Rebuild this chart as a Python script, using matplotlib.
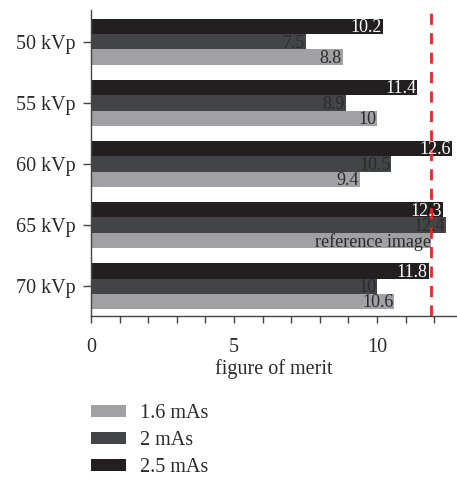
import numpy as np
import matplotlib.pyplot as plt
from matplotlib.ticker import MultipleLocator

plt.rcParams["font.family"] = ["Liberation Serif", "DejaVu Serif"]

categories = ["50 kVp", "55 kVp", "60 kVp", "65 kVp", "70 kVp"]
mas_16 = [8.8, 10.0, 9.4, 11.9, 10.6]
mas_2 = [7.5, 8.9, 10.5, 12.4, 10.0]
mas_25 = [10.2, 11.4, 12.6, 12.3, 11.8]
labels_16 = ["8.8", "10", "9.4", "reference image", "10.6"]
labels_2 = ["7.5", "8.9", "10.5", "12.4", "10"]
labels_25 = ["10.2", "11.4", "12.6", "12.3", "11.8"]
reference_fom = 11.9

c_16 = "#a1a1a5"
c_2 = "#434447"
c_25 = "#231f20"
txt = "#2b2b2b"

fig = plt.figure(figsize=(4.57, 4.79), dpi=100)
ax = fig.add_axes([0.199, 0.340, 0.799, 0.639])

y = np.arange(len(categories))
h = 0.25
b25 = ax.barh(y - h, mas_25, height=h, color=c_25, label="2.5 mAs")
b2 = ax.barh(y, mas_2, height=h, color=c_2, label="2 mAs")
b16 = ax.barh(y + h, mas_16, height=h, color=c_16, label="1.6 mAs")

# value labels, right aligned just inside the bar ends
for bars, labs, col in [(b25, labels_25, "white"), (b2, labels_2, txt),
                        (b16, labels_16, txt)]:
    for rect, lab in zip(bars, labs):
        ax.text(rect.get_width() - 0.03, rect.get_y() + rect.get_height() / 2 + 0.02,
                lab, ha="right", va="center", color=col, fontsize=13)

ax.axvline(reference_fom, color="#e8262b", linestyle=(0, (4, 3)), linewidth=2)

ax.set_xlim(0, 12.76)
ax.set_ylim(4.49, -0.52)
ax.set_yticks(y)
ax.set_yticklabels(categories, fontsize=14.5, color=txt)
ax.xaxis.set_major_locator(MultipleLocator(5))
ax.xaxis.set_minor_locator(MultipleLocator(1))
ax.tick_params(axis="x", which="both", length=5, width=1, color="#444444",
               labelsize=14.5, labelcolor=txt, pad=11)
ax.tick_params(axis="y", length=6, width=1, color="#444444", pad=5)
ax.set_xlabel("figure of merit", fontsize=14.5, color=txt, labelpad=1)
for s in ["top", "right"]:
    ax.spines[s].set_visible(False)
for s in ["left", "bottom"]:
    ax.spines[s].set_color("#444444")
    ax.spines[s].set_linewidth(1)

fig.legend([b16, b2, b25], ["1.6 mAs", "2 mAs", "2.5 mAs"], loc="upper left",
           bbox_to_anchor=(0.199, 0.156), frameon=False, fontsize=14.5,
           borderpad=0, borderaxespad=0, handlelength=1.75, handleheight=0.5,
           labelspacing=0.4, handletextpad=0.7, labelcolor=txt)

plt.savefig("out.png", dpi=100)
